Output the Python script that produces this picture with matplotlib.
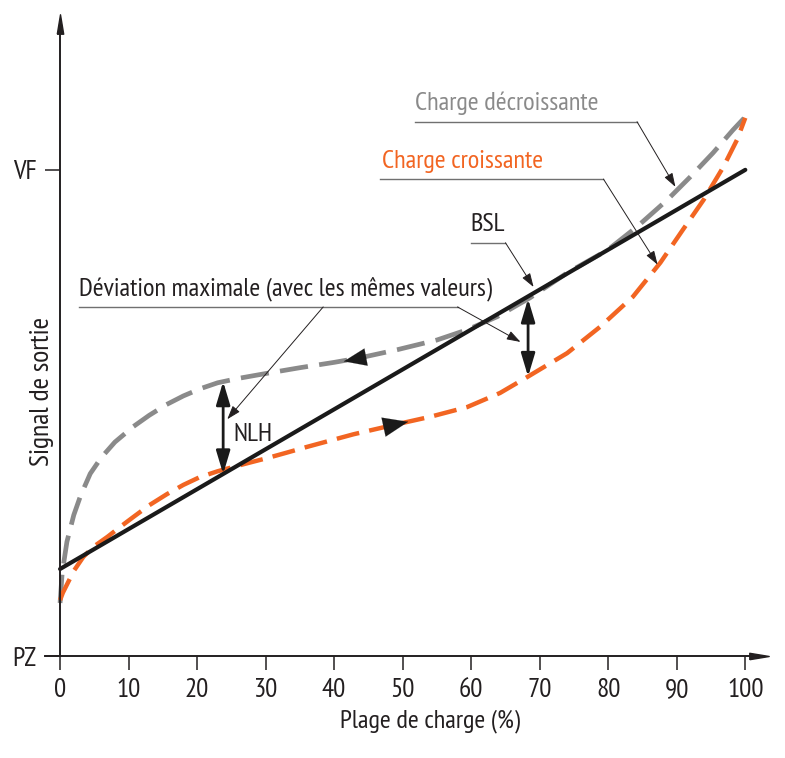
import numpy as np
import matplotlib
matplotlib.use("Agg")
import matplotlib.pyplot as plt

plt.rcParams["font.family"] = ["PT Sans Narrow", "Fira Sans Condensed", "DejaVu Sans"]

GREY = "#8a8a8a"
ORANGE = "#f26522"
INK = "#231f20"
FS = 19

# Plage de charge (%) / signal de sortie (PZ = 0, VF = 100)
x_dec = [0, 0.3, 1, 2, 3, 4.4, 6, 8, 10.7, 13, 15.5, 18, 20.5, 23, 26, 30,
         35, 40, 44, 49.2, 55, 59.4, 63.8, 68.6, 74, 79.9, 84.2, 88.6, 92,
         95.3, 98.2, 100]
y_dec = [10.9, 17, 23.5, 29, 33, 37.5, 40.8, 44, 47.2, 49.5, 51.7, 53.5, 55,
         56.2, 57.1, 58.1, 59.3, 60.4, 61.4, 63, 65, 67.1, 69.8, 73.7, 78.8,
         83.5, 88.3, 93.8, 98.6, 103.5, 108.2, 110.9]

x_inc = [0, 0.4, 2, 3.4, 5, 6.9, 9, 10.7, 13, 15.6, 18, 20.4, 23, 25.3, 28,
         30.2, 33, 36, 42.8, 48.6, 54, 59.4, 64.2, 68.2, 74, 78.8, 83.6, 87.6,
         90.9, 93.9, 96.8, 98.8, 100]
y_inc = [11.5, 13, 17.5, 20.4, 22.6, 24.5, 26.8, 28.6, 31, 33.3, 35.2, 36.8,
         38, 38.9, 39.9, 40.7, 41.8, 43, 45.6, 47.5, 49.2, 51.2, 54.1, 57.4,
         62.3, 67.7, 73.9, 80.9, 87.7, 93.8, 100.6, 106.2, 110.7]

x_bsl = [0, 100]
y_bsl = [17.9, 100]

x_ticks = [0, 10, 20, 30, 40, 50, 60, 70, 80, 90, 100]
y_ticks = [0, 100]
y_tick_labels = ["PZ", "VF"]

nlh_x = 23.8
dev_x = 68.3

fig = plt.figure(figsize=(7.85, 7.58), dpi=100)
ax = fig.add_axes([45 / 785, 102 / 758, 714 / 785, 632 / 758])
ax.set_xlim(-2.2, 102.0)
ax.set_ylim(0, 130)

for s in ["top", "right"]:
    ax.spines[s].set_visible(False)
ax.spines["left"].set_position(("data", 0))
for s in ["left", "bottom"]:
    ax.spines[s].set_linewidth(1.4)
    ax.spines[s].set_color(INK)

ax.set_xticks(x_ticks)
ax.set_yticks(y_ticks, y_tick_labels)
ax.tick_params(axis="x", direction="out", length=10, width=1.1, pad=6,
               labelsize=19.5, colors=INK)
ax.tick_params(axis="y", direction="out", length=11, width=1.1, pad=6,
               labelsize=19.5, colors=INK)

# axis arrowheads
head = [(-1, -0.33), (1, 0), (-1, 0.33), (-1, -0.33)]
head_up = [(-0.33, -1), (0, 1), (0.33, -1), (-0.33, -1)]
ax.plot(102.0, 0, marker=head, ms=14, color=INK, clip_on=False)
ax.plot(0, 130, marker=head_up, ms=14, color=INK, clip_on=False)

ax.set_xlabel("Plage de charge (%)", fontsize=FS, color=INK)
ax.xaxis.set_label_coords(0.539, -0.085)
ax.text(-2.7, 54.5, "Signal de sortie", rotation=90, ha="center", va="center",
        fontsize=20, color=INK)

# curves
ax.plot(x_dec, y_dec, color=GREY, lw=3.4, ls=(0, (6.0, 2.4)),
        solid_joinstyle="round")
ax.plot(x_inc, y_inc, color=ORANGE, lw=3.2, ls=(0, (5.2, 2.3)),
        solid_joinstyle="round")
ax.plot(x_bsl, y_bsl, color="#1a1a1a", lw=3.0, solid_capstyle="round")

# direction heads on the curves
ax.annotate("", xy=(41.0, 60.5), xytext=(43.6, 61.2),
            arrowprops=dict(arrowstyle="-|>,head_length=0.9,head_width=0.35",
                            color="#1a1a1a", lw=0.1, mutation_scale=18))
ax.annotate("", xy=(51.2, 48.3), xytext=(47.6, 47.2),
            arrowprops=dict(arrowstyle="-|>,head_length=0.9,head_width=0.35",
                            color="#1a1a1a", lw=0.1, mutation_scale=20))

# double arrows
nlh_top = np.interp(nlh_x, x_dec, y_dec)
nlh_bot = np.interp(nlh_x, x_bsl, y_bsl)
ax.annotate("", xy=(nlh_x, nlh_top), xytext=(nlh_x, nlh_bot),
            arrowprops=dict(arrowstyle="<|-|>,head_length=1.0,head_width=0.3",
                            color="#1a1a1a", lw=2.0, mutation_scale=14,
                            shrinkA=0, shrinkB=0))
dev_top = np.interp(dev_x, x_dec, y_dec)
dev_bot = np.interp(dev_x, x_inc, y_inc)
ax.annotate("", xy=(dev_x, dev_top), xytext=(dev_x, dev_bot),
            arrowprops=dict(arrowstyle="<|-|>,head_length=1.0,head_width=0.3",
                            color="#1a1a1a", lw=2.0, mutation_scale=14,
                            shrinkA=0, shrinkB=0))
ax.text(25.3, 45.5, "NLH", fontsize=FS, color=INK, va="center", ha="left")

# callouts
thin = dict(arrowstyle="-|>,head_length=0.6,head_width=0.2", color=INK,
            lw=0.7, mutation_scale=14, shrinkA=0, shrinkB=0)


def callout(text, colour, x0, x1, y, tip, x_text=None):
    ax.plot([x0, x1], [y, y], color="#707070", lw=1.0)
    ax.annotate("", xy=tip, xytext=(x1, y), arrowprops=thin)
    ax.text(x0 if x_text is None else x_text, y + 1.3, text, fontsize=FS,
            color=colour, ha="left", va="bottom")


callout("Déviation maximale (avec les mêmes valeurs)", INK, 2.8, 58.0, 71.8,
        (67.2, 64.6))
ax.annotate("", xy=(24.4, 48.7), xytext=(38.4, 71.8), arrowprops=thin)
callout("BSL", INK, 59.9, 65.0, 85.0, (69.1, 75.9))
callout("Charge croissante", ORANGE, 46.7, 79.3, 98.1, (87.2, 80.5),
        x_text=47.0)
callout("Charge décroissante", GREY, 51.8, 84.2, 109.9, (89.8, 96.5))

fig.savefig("out.png", dpi=100)
